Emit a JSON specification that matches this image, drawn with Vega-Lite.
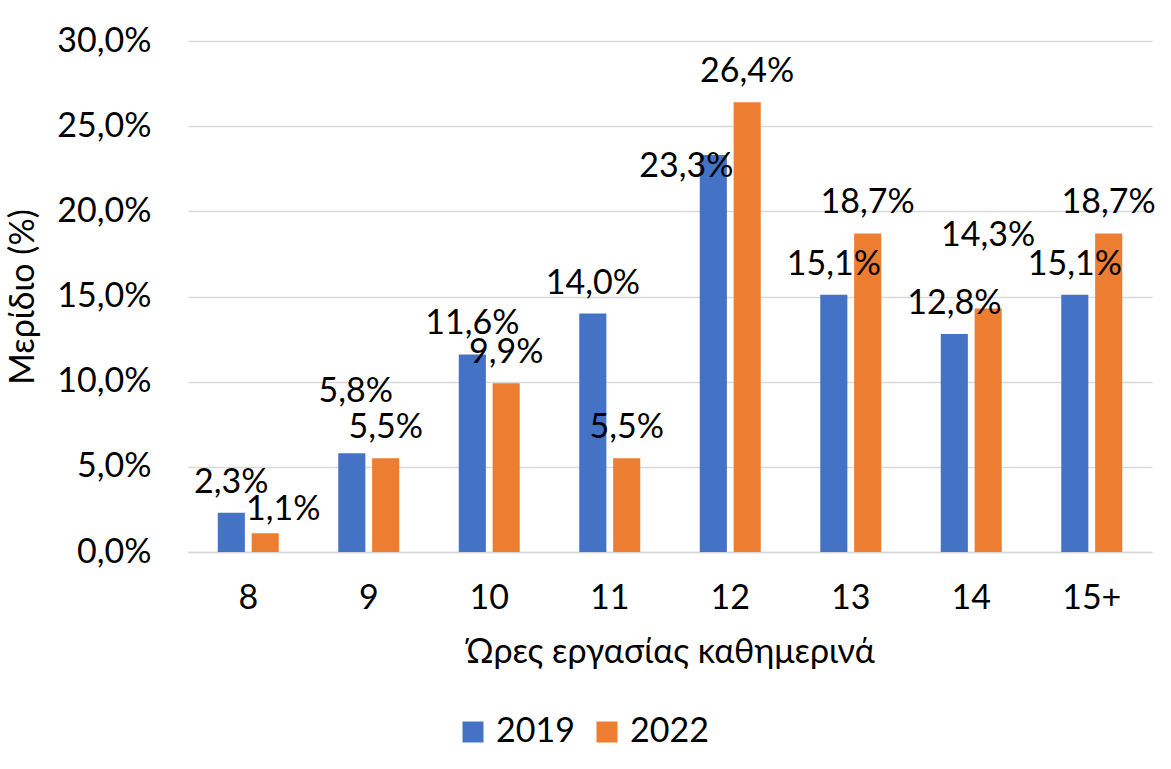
{
  "$schema": "https://vega.github.io/schema/vega-lite/v6.json",
  "autosize": "none",
  "width": 964,
  "height": 511,
  "padding": {"left": 188, "top": 41, "right": 19, "bottom": 217},
  "background": "white",
  "config": {
    "font": "Lato",
    "locale": {"number": {"decimal": ",", "thousands": ".", "grouping": [3], "currency": ["", " €"]}},
    "view": {"stroke": null},
    "axis": {"labelFont": "Lato", "titleFont": "Lato", "labelColor": "#000000", "titleColor": "#000000", "titleFontWeight": "normal"},
    "legend": {"labelFont": "Lato"}
  },
  "data": {
    "values": [
      {"hours": "8", "year": "2019", "share": 0.023},
      {"hours": "8", "year": "2022", "share": 0.011},
      {"hours": "9", "year": "2019", "share": 0.058},
      {"hours": "9", "year": "2022", "share": 0.055},
      {"hours": "10", "year": "2019", "share": 0.116},
      {"hours": "10", "year": "2022", "share": 0.099},
      {"hours": "11", "year": "2019", "share": 0.140},
      {"hours": "11", "year": "2022", "share": 0.055},
      {"hours": "12", "year": "2019", "share": 0.233},
      {"hours": "12", "year": "2022", "share": 0.264},
      {"hours": "13", "year": "2019", "share": 0.151},
      {"hours": "13", "year": "2022", "share": 0.187},
      {"hours": "14", "year": "2019", "share": 0.128},
      {"hours": "14", "year": "2022", "share": 0.143},
      {"hours": "15+", "year": "2019", "share": 0.151},
      {"hours": "15+", "year": "2022", "share": 0.187}
    ]
  },
  "encoding": {
    "x": {
      "field": "hours", "type": "nominal", "sort": null,
      "scale": {"paddingInner": 0.494, "paddingOuter": 0.247},
      "axis": {
        "title": "Ώρες εργασίας καθημερινά", "titleFontSize": 34, "titlePadding": 20,
        "labelFontSize": 34, "labelAngle": 0, "labelPadding": 29,
        "ticks": false, "domainColor": "#D9D9D9", "domainWidth": 1.5, "grid": false
      }
    },
    "xOffset": {"field": "year", "type": "nominal", "scale": {"paddingInner": 0.2}},
    "y": {
      "field": "share", "type": "quantitative",
      "scale": {"domain": [0, 0.3]},
      "axis": {
        "title": "Μερίδιο (%)", "titleFontSize": 34, "titlePadding": 16,
        "labelFontSize": 34, "labelPadding": 37, "values": [0, 0.05, 0.1, 0.15, 0.2, 0.25, 0.3],
        "format": ".1%",
        "ticks": false, "domain": false, "gridColor": "#D9D9D9", "gridWidth": 1.5
      }
    }
  },
  "layer": [
    {
      "mark": {"type": "bar"},
      "encoding": {
        "color": {
          "field": "year", "type": "nominal",
          "scale": {"domain": ["2019", "2022"], "range": ["#4472C4", "#ED7D31"]},
          "legend": {
            "title": null, "orient": "none", "direction": "horizontal",
            "legendX": 268, "legendY": 674,
            "symbolType": "square", "symbolSize": 441, "symbolStrokeWidth": 0,
            "labelFontSize": 34, "labelOffset": 6, "columnPadding": 15, "labelColor": "#000000"
          }
        }
      }
    },
    {
      "transform": [{"filter": "!((datum.hours === '8' && datum.year === '2022') || (datum.hours === '9' && datum.year === '2019') || (datum.hours === '12' && datum.year === '2019') || (datum.hours === '14' && datum.year === '2022'))"}],
      "mark": {"type": "text", "baseline": "alphabetic", "dy": -20, "fontSize": 34, "color": "#000000"},
      "encoding": {"text": {"field": "share", "type": "quantitative", "format": ".1%"}}
    },
    {
      "transform": [{"filter": "datum.hours === '8' && datum.year === '2022'"}],
      "mark": {"type": "text", "baseline": "alphabetic", "dx": 18, "dy": -13, "fontSize": 34, "color": "#000000"},
      "encoding": {"text": {"field": "share", "type": "quantitative", "format": ".1%"}}
    },
    {
      "transform": [{"filter": "datum.hours === '9' && datum.year === '2019'"}],
      "mark": {"type": "text", "baseline": "alphabetic", "dx": 4, "dy": -51, "fontSize": 34, "color": "#000000"},
      "encoding": {"text": {"field": "share", "type": "quantitative", "format": ".1%"}}
    },
    {
      "transform": [{"filter": "datum.hours === '12' && datum.year === '2019'"}],
      "mark": {"type": "text", "baseline": "alphabetic", "dx": -27, "dy": 22, "fontSize": 34, "color": "#000000"},
      "encoding": {"text": {"field": "share", "type": "quantitative", "format": ".1%"}}
    },
    {
      "transform": [{"filter": "datum.hours === '14' && datum.year === '2022'"}],
      "mark": {"type": "text", "baseline": "alphabetic", "dy": -62, "fontSize": 34, "color": "#000000"},
      "encoding": {"text": {"field": "share", "type": "quantitative", "format": ".1%"}}
    }
  ]
}
